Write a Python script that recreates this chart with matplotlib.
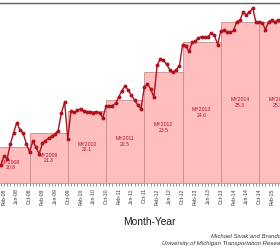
import matplotlib
matplotlib.use("Agg")
import matplotlib.pyplot as plt
import matplotlib.dates as mdates
import pandas as pd

plt.rcParams["font.family"] = ["Liberation Sans", "DejaVu Sans"]

# monthly sales-weighted fuel economy (mpg), starting Jan-08
mpg = [
    20.15, 20.48, 20.37, 20.91, 21.30, 21.68, 21.43, 21.30, 20.91, 20.62, 21.00, 20.80,  # 2008
    20.55, 20.94, 21.03, 21.12, 21.18, 21.27, 21.39, 22.04, 22.42, 21.09, 22.11, 22.06,  # 2009
    22.13, 22.18, 22.09, 22.08, 22.08, 22.04, 22.08, 22.02, 21.86, 22.27, 22.29, 22.29,  # 2010
    22.38, 22.62, 22.83, 23.01, 22.85, 22.67, 22.49, 22.31, 22.18, 22.96, 23.07, 22.89,  # 2011
    22.60, 23.75, 23.97, 23.93, 23.79, 23.59, 23.50, 23.59, 23.73, 24.50, 24.46, 24.25,  # 2012
    24.58, 24.61, 24.74, 24.79, 24.77, 24.79, 24.90, 24.83, 24.50, 24.99, 25.01, 24.96,  # 2013
    24.94, 25.01, 25.33, 25.37, 25.66, 25.57, 25.66, 25.82, 25.31, 25.31, 25.29, 25.04,  # 2014
    25.33, 25.40, 25.30, 25.40, 25.30,  # 2015
]

# model-year averages
model_years = [2008, 2009, 2010, 2011, 2012, 2013, 2014, 2015]
my_mpg = [20.8, 21.3, 22.1, 22.5, 23.5, 24.6, 25.3, 25.3]

months = pd.date_range("2008-01-01", periods=len(mpg), freq="MS")

fig = plt.figure(figsize=(2.8, 2.5), dpi=100)
ax = fig.add_axes([0, 0.268, 1, 0.72])
ax.xaxis_date()

ymin, ymax = 19.5, 26.0

# model year boxes (Oct 1 to Oct 1)
starts = mdates.date2num(pd.to_datetime([f"{y - 1}-10-01" for y in model_years]))
ends = mdates.date2num(pd.to_datetime([f"{y}-10-01" for y in model_years]))
widths = ends - starts
ax.bar(starts, [v - ymin for v in my_mpg], width=widths, bottom=ymin, align="edge",
       color="#ffbdbd", edgecolor="#c48c8c", linewidth=0.6, zorder=1)
for y, v, x0, w in zip(model_years, my_mpg, starts, widths):
    ax.text(x0 + w / 2, (v + ymin) / 2, f"MY{y}\n{v:.1f}", ha="center", va="center",
            fontsize=3.7, color="#b0102a", linespacing=1.15, zorder=2)

# monthly line
ax.plot(mdates.date2num(months), mpg, color="#b0121e", lw=1.0, marker="o", ms=1.8, zorder=3)

ax.set_xlim(mdates.date2num(pd.Timestamp("2007-12-24")), mdates.date2num(pd.Timestamp("2015-04-19")))
ax.set_ylim(ymin, ymax)

ax.xaxis.set_major_locator(mdates.MonthLocator(bymonth=[2, 6, 10]))
ax.xaxis.set_major_formatter(mdates.DateFormatter("%b-%y"))
ax.xaxis.set_minor_locator(mdates.MonthLocator())
ax.tick_params(axis="x", which="both", direction="out", length=2.2, width=0.5, color="#666666")
ax.tick_params(axis="x", which="major", labelsize=3.7, labelrotation=90, labelcolor="#333333", pad=1.5)
ax.set_yticks([])

ax.spines["left"].set_visible(False)
ax.spines["right"].set_visible(False)
ax.spines["top"].set_color("#5e5e5e")
ax.spines["top"].set_linewidth(1.0)
ax.spines["bottom"].set_color("#888888")
ax.spines["bottom"].set_linewidth(0.5)

fig.text(149 / 280, 1 - 222 / 250, "Month-Year", ha="center", va="center", fontsize=7.4, color="#1e1e1e")
fig.text(311 / 280, 1 - 236.5 / 250, "Michael Sivak and Brandon Schoettle", ha="right", va="center",
         style="italic", fontsize=4.3, color="#333333")
fig.text(311 / 280, 1 - 243.5 / 250, "University of Michigan Transportation Research Institute",
         ha="right", va="center", style="italic", fontsize=4.3, color="#333333")

fig.savefig("out.png", dpi=100)
